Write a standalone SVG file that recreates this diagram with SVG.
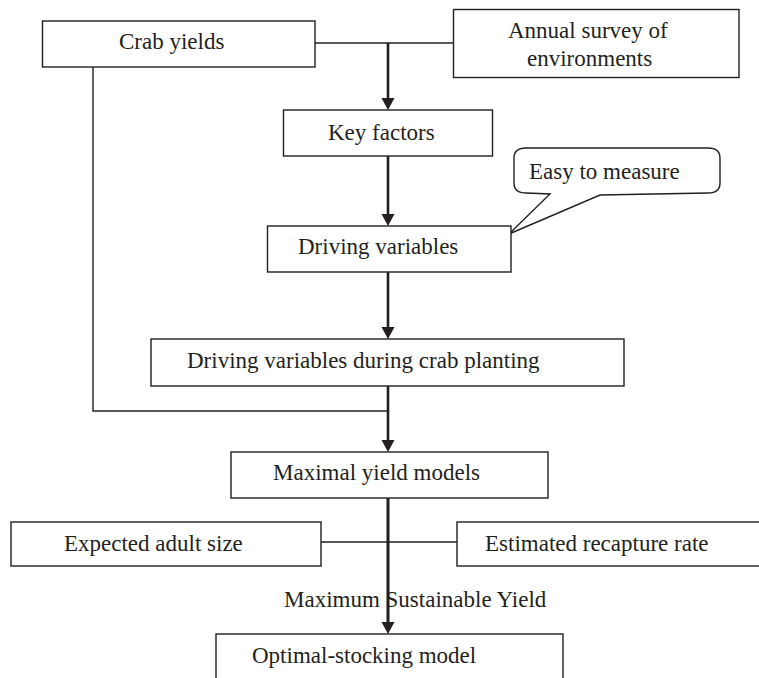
<svg xmlns="http://www.w3.org/2000/svg" width="759" height="678" viewBox="0 0 759 678">
<defs>
<style>
.box{fill:#fff;stroke:#231f20;stroke-width:1.4}
.t{font-family:"Liberation Serif","Times New Roman",serif;font-size:23px;fill:#231f20}
.thin{fill:none;stroke:#231f20;stroke-width:1.4}
.thick{fill:none;stroke:#231f20;stroke-width:2.6}
</style>
<marker id="ah" markerUnits="userSpaceOnUse" markerWidth="14" markerHeight="13" refX="7" refY="13" orient="auto" viewBox="0 0 14 13">
<path d="M0,0 L14,0 L7,13 Z" fill="#231f20" transform="rotate(-90 7 6.5) translate(0.5 0.5)"/>
</marker>
</defs>
<rect width="759" height="678" fill="#fff"/>
<g id="connectors">
<line class="thin" x1="315" y1="43" x2="453" y2="43"/>
<polyline class="thin" points="93,67 93,411 388,411"/>
<line class="thin" x1="321" y1="542" x2="457" y2="542"/>
<line class="thick" x1="388" y1="43" x2="388" y2="100"/>
<polygon points="381.5,98 394.5,98 388,110" fill="#231f20"/>
<line class="thick" x1="388" y1="156" x2="388" y2="216"/>
<polygon points="381.5,214 394.5,214 388,226" fill="#231f20"/>
<line class="thick" x1="388" y1="272" x2="388" y2="329"/>
<polygon points="381.5,327 394.5,327 388,339" fill="#231f20"/>
<line class="thick" x1="388" y1="386" x2="388" y2="442"/>
<polygon points="381.5,440 394.5,440 388,452" fill="#231f20"/>
<line class="thick" x1="388" y1="498" x2="388" y2="624"/>
<polygon points="381.5,622 394.5,622 388,634" fill="#231f20"/>
</g>
<g id="crab-yields">
<rect class="box" x="42.5" y="21" width="272.5" height="46"/>
<text class="t" x="119" y="49">Crab yields</text>
</g>
<g id="annual-survey">
<rect class="box" x="453.5" y="9.5" width="285.5" height="68"/>
<text class="t" x="508" y="38">Annual survey of</text>
<text class="t" x="527" y="66">environments</text>
</g>
<g id="key-factors">
<rect class="box" x="283.5" y="110" width="209" height="46"/>
<text class="t" x="328" y="140">Key factors</text>
</g>
<g id="easy-to-measure">
<path class="box" d="M526,148 L708,148 Q720,148 720,158 L720,183 Q720,193 708,193 L600,195 L509,234 L550,194 L526,193 Q514,193 514,183 L514,158 Q514,148 526,148 Z"/>
<text class="t" x="529" y="179">Easy to measure</text>
</g>
<g id="driving-variables">
<rect class="box" x="267.5" y="226" width="243.5" height="46"/>
<text class="t" x="298" y="254">Driving variables</text>
</g>
<g id="driving-variables-planting">
<rect class="box" x="151" y="339" width="473" height="47"/>
<text class="t" x="187" y="368">Driving variables during crab planting</text>
</g>
<g id="maximal-yield">
<rect class="box" x="231" y="452" width="317" height="46"/>
<text class="t" x="273" y="480">Maximal yield models</text>
</g>
<g id="expected-adult-size">
<rect class="box" x="11" y="522" width="310" height="44"/>
<text class="t" x="64" y="551">Expected adult size</text>
</g>
<g id="estimated-recapture">
<rect class="box" x="457" y="522" width="306" height="44"/>
<text class="t" x="485" y="551">Estimated recapture rate</text>
</g>
<g id="msy-label">
<text class="t" x="284" y="607">Maximum Sustainable Yield</text>
</g>
<g id="optimal-stocking">
<rect class="box" x="216" y="634" width="347" height="60"/>
<text class="t" x="252" y="663">Optimal-stocking model</text>
</g>
<line class="thick" x1="388" y1="498" x2="388" y2="624"/>
</svg>
